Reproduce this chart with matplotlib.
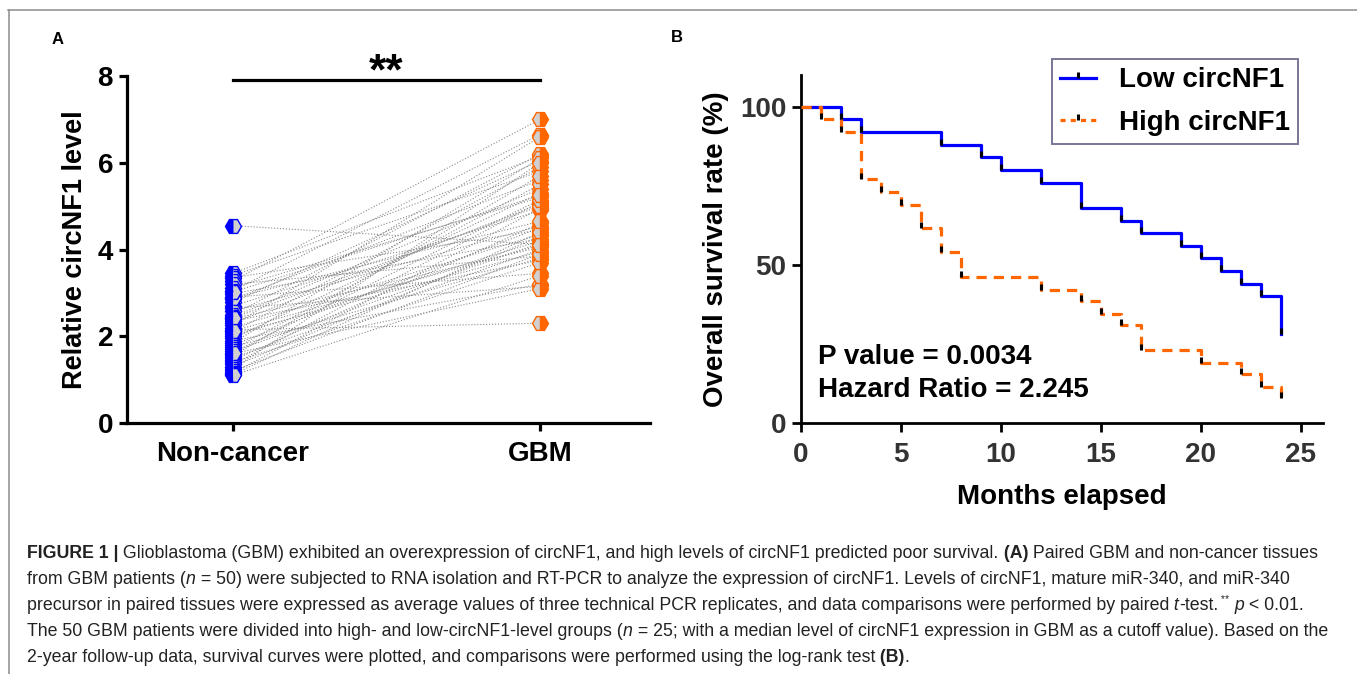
import numpy as np
import matplotlib
matplotlib.use('Agg')
import matplotlib.pyplot as plt
from matplotlib.lines import Line2D

plt.rcParams['font.family'] = ['Liberation Sans', 'DejaVu Sans']

# panel A: paired circNF1 levels (same order = same patient)
groups = ['Non-cancer', 'GBM']
non_cancer = [4.55, 3.45, 3.40, 3.35, 3.28, 3.20, 3.12, 3.05, 2.98, 2.90,
              2.85, 2.78, 2.70, 2.65, 2.58, 2.50, 2.45, 2.40, 2.35, 2.30,
              2.25, 2.20, 2.15, 2.10, 2.05, 2.00, 1.95, 1.90, 1.85, 1.80,
              1.75, 1.70, 1.65, 1.60, 1.55, 1.50, 1.45, 1.40, 1.35, 1.30,
              1.25, 1.20, 1.15, 1.12, 1.10, 2.42, 2.12, 1.62, 2.88, 3.02]
gbm = [4.12, 6.15, 5.80, 4.45, 7.00, 3.85, 5.20, 6.65, 4.25, 3.45,
       5.60, 6.05, 4.90, 3.15, 4.55, 6.20, 5.40, 4.05, 3.75, 5.05,
       6.60, 4.35, 2.30, 5.90, 3.95, 4.20, 5.30, 3.20, 6.10, 4.50,
       3.80, 5.50, 4.15, 3.10, 5.70, 4.00, 4.60, 3.70, 5.10, 4.30,
       6.00, 3.90, 4.95, 4.40, 3.40, 5.00, 4.10, 5.15, 4.65, 5.25]

# panel B: Kaplan-Meier steps
low_t = [0, 2, 3, 7, 9, 10, 12, 14, 16, 17, 19, 20, 21, 22, 23, 24]
low_s = [100, 96, 92, 88, 84, 80, 76, 68, 64, 60, 56, 52, 48, 44, 40, 28]
high_t = [0, 1, 2, 3, 4, 5, 6, 7, 8, 12, 14, 15, 16, 17, 20, 22, 23, 24]
high_s = [100, 96, 92, 77, 73, 69, 61.5, 54, 46, 42, 38.5, 34.5, 31, 23,
          19, 15.5, 11.5, 8]

W, H = 1357, 674
fig = plt.figure(figsize=(W / 100, H / 100), dpi=100)

blue = '#0000ff'
orange = '#ff6600'
grey_fill = '#d0d0d0'

# ---------- panel A
axA = fig.add_axes([127 / W, 1 - 423 / H, 523 / W, 347 / H])
for a, b in zip(non_cancer, gbm):
    axA.plot([0, 1], [a, b], color='#8a8a8a', ls=':', lw=0.8, zorder=1)
axA.plot(np.zeros(len(non_cancer)), non_cancer, ls='none', marker='H', ms=11.5,
         fillstyle='left', mfc=blue, mfcalt=grey_fill, mec=blue, mew=1.0,
         zorder=3)
axA.plot(np.ones(len(gbm)), gbm, ls='none', marker='H', ms=11.5,
         fillstyle='right', mfc=orange, mfcalt=grey_fill, mec=orange, mew=1.0,
         zorder=3)
axA.plot([0, 1], [7.9, 7.9], color='black', lw=2.3, clip_on=False)
axA.text(0.5, 7.6, '**', ha='center', va='bottom', fontsize=32,
         fontweight='bold')

axA.set_xlim(-0.345, 1.358)
axA.set_ylim(0, 8)
axA.set_xticks([0, 1])
axA.set_xticklabels(groups)
axA.set_yticks([0, 2, 4, 6, 8])
for s in ['top', 'right']:
    axA.spines[s].set_visible(False)
for s in ['left', 'bottom']:
    axA.spines[s].set_linewidth(2.3)
axA.tick_params(width=2.3, length=6, labelsize=20, pad=4)
for lab in axA.get_xticklabels() + axA.get_yticklabels():
    lab.set_fontweight('bold')
axA.tick_params(axis='x', pad=7)
axA.set_ylabel('Relative circNF1 level', fontsize=19.5, fontweight='bold')
axA.yaxis.set_label_coords(-0.1, 0.5)
axA.yaxis.label.set_va('center')

# ---------- panel B
axB = fig.add_axes([801 / W, 1 - 423 / H, 522 / W, 348 / H])
axB.step(low_t, low_s, where='post', color=blue, lw=2.3, zorder=2)
axB.step(high_t, high_s, where='post', color=orange, lw=2.3,
         dashes=(3.2, 2.2), zorder=3)
axB.plot(low_t[1:], low_s[1:], ls='none', marker=2, color='black', ms=4.5,
         mew=2.2, zorder=4)
axB.plot(high_t[1:], high_s[1:], ls='none', marker=2, color='black', ms=4.5,
         mew=2.2, zorder=4)

axB.set_xlim(0, 26.1)
axB.set_ylim(0, 110)
axB.set_xticks([0, 5, 10, 15, 20, 25])
axB.set_yticks([0, 50, 100])
for s in ['top', 'right']:
    axB.spines[s].set_visible(False)
for s in ['left', 'bottom']:
    axB.spines[s].set_linewidth(2.0)
axB.tick_params(width=2.0, length=6.5, labelsize=20, labelcolor='#333333',
                pad=4)
axB.tick_params(axis='x', pad=7)
for lab in axB.get_xticklabels() + axB.get_yticklabels():
    lab.set_fontweight('bold')
axB.set_ylabel('Overall survival rate (%)', fontsize=20, fontweight='bold')
axB.yaxis.set_label_coords(-0.163, 0.5)
axB.yaxis.label.set_va('center')
axB.set_xlabel('Months elapsed', fontsize=20, fontweight='bold')
axB.xaxis.set_label_coords(0.5, -0.213)
axB.xaxis.label.set_va('center')

axB.text(0.85, 20.9, 'P value = 0.0034', fontsize=20, fontweight='bold',
         va='center')
axB.text(0.85, 10.4, 'Hazard Ratio = 2.245', fontsize=20, fontweight='bold',
         va='center')

handles = [
    Line2D([], [], color=blue, lw=2.3, marker=2, mec='black', ms=4.5, mew=2.2),
    Line2D([], [], color=orange, lw=2.3, dashes=(1.6, 1.6), marker=2,
           mec='black', ms=4.5, mew=2.2),
]
leg = fig.legend(handles, ['Low circNF1', 'High circNF1'], loc='upper right',
                 bbox_to_anchor=(1298 / W, 1 - 59 / H), frameon=True,
                 fancybox=False, borderaxespad=0, borderpad=0.3,
                 handlelength=1.3, handletextpad=0.8, labelspacing=0.6,
                 prop={'size': 20, 'weight': 'bold'}, numpoints=1)
leg.get_frame().set_edgecolor('#55557a')
leg.get_frame().set_linewidth(1.4)

# panel letters
fig.text(58 / W, 1 - 40 / H, 'A', fontsize=12, fontweight='bold',
         ha='center', va='center')
fig.text(677 / W, 1 - 38 / H, 'B', fontsize=12, fontweight='bold',
         ha='center', va='center')

# frame lines
fig.add_artist(Line2D([8 / W, 1], [1 - 10 / H, 1 - 10 / H], color='#8c8c8c',
                      lw=1.1, transform=fig.transFigure))
fig.add_artist(Line2D([9 / W, 9 / W], [0, 1 - 10 / H], color='#8c8c8c',
                      lw=1.1, transform=fig.transFigure))

# ---------- caption
cap_size = 12.8
cap_col = '#222222'
N = {}
B = {'fontweight': 'bold'}
I = {'fontstyle': 'italic'}
SUP = {'fontsize': 7.5, 'sup': True}

caption = [
    [('FIGURE 1 |', B),
     (' Glioblastoma (GBM) exhibited an overexpression of circNF1, and high '
      'levels of circNF1 predicted poor survival.', N),
     (' (A)', B), (' Paired GBM and non-cancer tissues', N)],
    [('from GBM patients (', N), ('n', I),
     (' = 50) were subjected to RNA isolation and RT-PCR to analyze the '
      'expression of circNF1. Levels of circNF1, mature miR-340, and miR-340', N)],
    [('precursor in paired tissues were expressed as average values of three '
      'technical PCR replicates, and data comparisons were performed by paired', N),
     (' t', I), ('-test.', N), (' **', SUP), (' p', I), (' < 0.01.', N)],
    [('The 50 GBM patients were divided into high- and low-circNF1-level '
      'groups (', N), ('n', I),
     (' = 25; with a median level of circNF1 expression in GBM as a cutoff '
      'value). Based on the', N)],
    [('2-year follow-up data, survival curves were plotted, and comparisons '
      'were performed using the log-rank test', N), (' (B)', B), ('.', N)],
]
baselines = [558, 584, 610, 636, 662]

renderer = fig.canvas.get_renderer()
for runs, yb in zip(caption, baselines):
    x = 27
    for txt, st in runs:
        st = dict(st)
        size = st.pop('fontsize', cap_size)
        sup = st.pop('sup', False)
        y = yb - 7 if sup else yb
        t = fig.text(x / W, 1 - y / H, txt, fontsize=size, color=cap_col,
                     va='baseline', ha='left', **st)
        bb = t.get_window_extent(renderer=renderer)
        x = bb.x1

fig.savefig('out.png', dpi=100)
